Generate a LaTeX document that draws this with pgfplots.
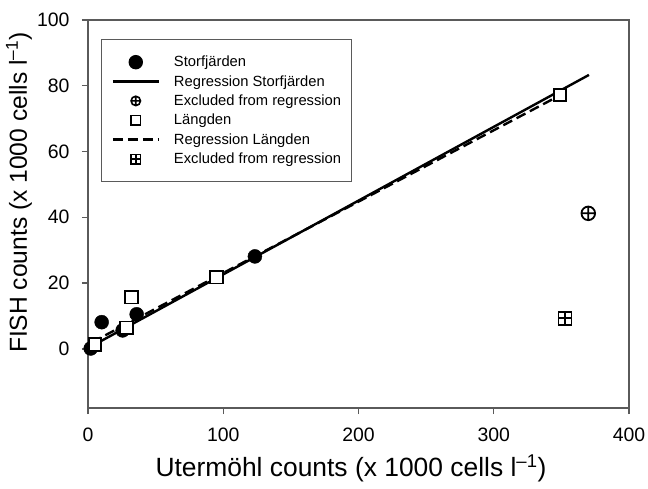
\documentclass[border=0pt]{standalone}
\usepackage{fontspec}
\setmainfont{Liberation Sans}
\usepackage{pgfplots}
\pgfplotsset{compat=1.18}
\definecolor{axisgray}{RGB}{90,90,90}
\pgfdeclareplotmark{boxplus}{%
  \pgfpathrectangle{\pgfqpoint{-\pgfplotmarksize}{-\pgfplotmarksize}}{\pgfqpoint{2\pgfplotmarksize}{2\pgfplotmarksize}}%
  \pgfusepathqfillstroke
  \pgfpathmoveto{\pgfqpoint{-\pgfplotmarksize}{0pt}}\pgfpathlineto{\pgfqpoint{\pgfplotmarksize}{0pt}}%
  \pgfpathmoveto{\pgfqpoint{0pt}{-\pgfplotmarksize}}\pgfpathlineto{\pgfqpoint{0pt}{\pgfplotmarksize}}%
  \pgfusepathqstroke}
\pgfplotsset{
  legmark/.style={legend image code/.code={\draw[##1] plot coordinates {(23bp,0bp)};}},
  legline/.style={legend image code/.code={\draw[##1] (0bp,0bp) -- (46bp,0bp);}},
}
\begin{document}
\begin{tikzpicture}
\begin{axis}[
  at={(0,0)}, anchor=south west,
  scale only axis, width=541bp, height=388bp,
  xmin=0, xmax=400, ymin=-18, ymax=100,
  xtick={0,100,...,400}, ytick={0,20,...,100},
  tick align=outside, xtick pos=bottom, ytick pos=left,
  major tick length=6bp,
  axis line style={draw=axisgray, line width=1.4bp},
  every tick/.style={draw=axisgray, line width=1.4bp},
  /pgf/number format/assume math mode=true,
  xticklabel style={font=\fontsize{19.5}{22}\selectfont, text=black, yshift=-10bp},
  yticklabel style={font=\fontsize{19.5}{22}\selectfont, text=black, xshift=-9bp},
  every axis x label/.style={at={(rel axis cs:0.486,-0.1546)}, anchor=center, font=\fontsize{26.5}{30}\selectfont},
  every axis y label/.style={at={(rel axis cs:-0.1275,0.555)}, rotate=90, anchor=center, font=\fontsize{24.7}{29}\selectfont},
  xlabel={Utermöhl counts (x 1000 cells l\textsuperscript{–1})},
  ylabel={FISH counts (x 1000 cells l\textsuperscript{–1})},
  clip=false,
  legend cell align=left,
  legend style={at={(rel axis cs:0.024,0.951)}, anchor=north west,
    draw=axisgray, line width=1.2bp,
    font=\fontsize{14.8}{17}\selectfont,
    inner xsep=10bp, inner ysep=14.5bp, row sep=3.2bp, column sep=14bp,
    nodes={inner xsep=0bp}},
]
% regression lines
\addplot[forget plot, black, line width=2.4bp] coordinates {(0,0.2) (370.4,83.3)};
\addplot[forget plot, black, line width=2.4bp, dash pattern=on 10bp off 5bp] coordinates {(3,2.0) (349,77.1)};
% Storfjarden
\addplot[forget plot, only marks, mark=*, mark size=7bp, black] coordinates {
(2.0,0.1) (10.1,8.1) (25.6,5.6) (36.0,10.5) (123.4,28.1)};
\addplot[forget plot, only marks, mark=oplus, mark size=6.8bp, black, line width=1.8bp, mark options={fill=white}] coordinates {(369.9,41.2)};
% Langden
\addplot[forget plot, only marks, mark=square*, mark size=6.3bp, black, line width=1.8bp, mark options={fill=white}] coordinates {
(5.2,1.3) (28.6,6.4) (32.3,15.7) (95.1,21.8) (349,77.2)};
\addplot[forget plot, only marks, mark=boxplus, mark size=6.5bp, black, line width=1.8bp, mark options={fill=white}] coordinates {(352.7,9.3)};
% legend
\addlegendimage{only marks, mark=*, mark size=6.6bp, black, legmark}
\addlegendentry{Storfjärden}
\addlegendimage{black, line width=2.4bp, legline}
\addlegendentry{Regression Storfjärden}
\addlegendimage{only marks, mark=oplus, mark size=4.7bp, black, line width=1.6bp, legmark}
\addlegendentry{Excluded from regression}
\addlegendimage{only marks, mark=square*, mark size=4.7bp, black, line width=1.6bp, mark options={fill=white}, legmark}
\addlegendentry{Längden}
\addlegendimage{black, line width=2.4bp, dash pattern=on 10bp off 5bp, legline}
\addlegendentry{Regression Längden}
\addlegendimage{only marks, mark=boxplus, mark size=4.7bp, black, line width=1.6bp, mark options={fill=white}, legmark}
\addlegendentry{Excluded from regression}
\end{axis}
\pgfresetboundingbox
\path (-88bp,-81bp) rectangle (560bp,408bp);
\end{tikzpicture}
\end{document}
